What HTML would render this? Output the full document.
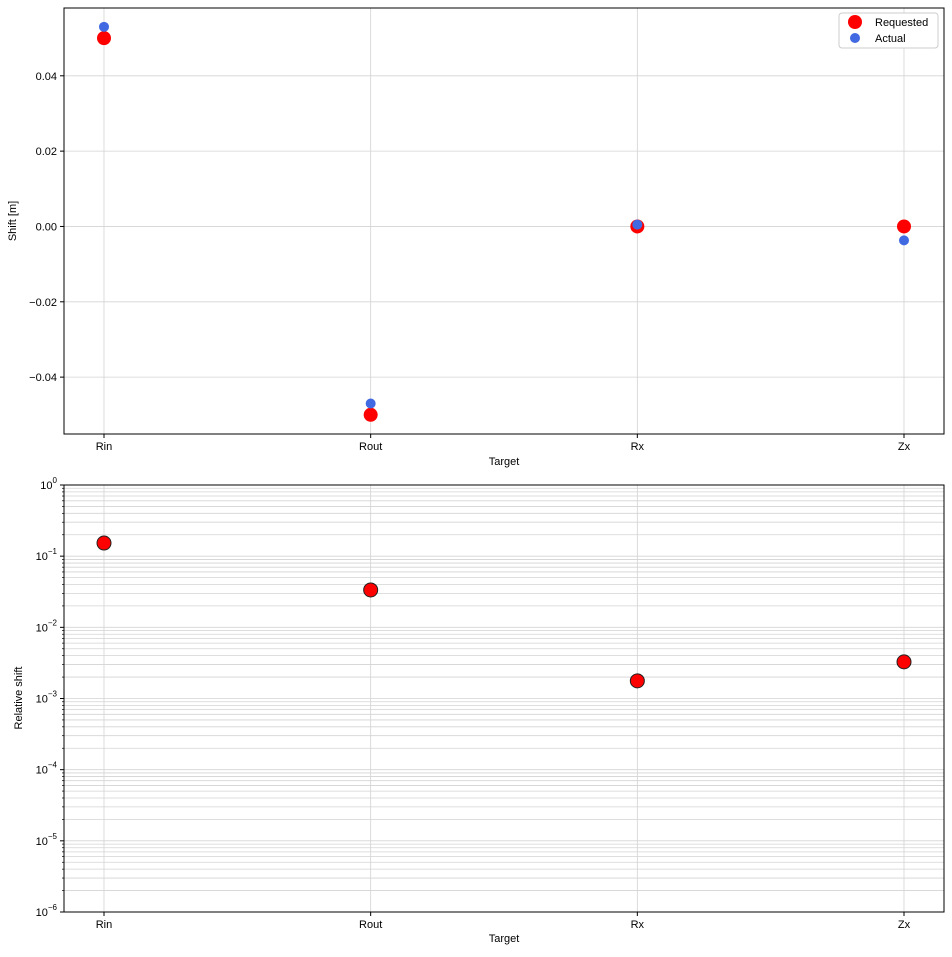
<!DOCTYPE html>
<html><head><meta charset="utf-8"><style>
body{margin:0;background:#fff;}
svg{font-family:"Liberation Sans","DejaVu Sans",sans-serif;}
</style></head><body>
<svg id="c" width="952" height="952" xmlns="http://www.w3.org/2000/svg"></svg>
<script>
const categories=["Rin","Rout","Rx","Zx"];
const requested=[0.05,-0.05,0,0];
const actual=[0.053,-0.047,0.0005,-0.0037];
const relShift=[0.153,0.0335,0.00177,0.00327];
const topTicks=[0.04,0.02,0.00,-0.02,-0.04];
const topTickLabels=["0.04","0.02","0.00","\u22120.02","\u22120.04"];
const logTicks=[0,-1,-2,-3,-4,-5,-6];

const svg=document.getElementById('c');
const NS="http://www.w3.org/2000/svg";
function el(t,a,p){const e=document.createElementNS(NS,t);for(const k in a)e.setAttribute(k,a[k]);(p||svg).appendChild(e);return e;}
const L=64,R=944;
const xS=i=>L+(i+0.15)/3.3*(R-L);
// top axes
const T1=8,B1=434,ymax=0.0580,ymin=-0.0551;
const y1=v=>T1+(ymax-v)/(ymax-ymin)*(B1-T1);
// bottom axes
const T2=485,B2=912;
const y2=v=>T2+(0-Math.log10(v))/6*(B2-T2);

const g1=el('g',{});
categories.forEach((c,i)=>{const x=xS(i);
 const l=el('line',{x1:x,x2:x,y1:T1,y2:B1,stroke:'#d3d3d3','stroke-width':0.8},g1);
 el('line',{x1:x,x2:x,y1:B1,y2:B1+4,stroke:'#000'},g1);
 const t=el('text',{x:x,y:B1+16,'font-size':11,'text-anchor':'middle'},g1);t.textContent=c;
});
topTicks.forEach((v,i)=>{const y=y1(v);
 const l=el('line',{x1:L,x2:R,y1:y,y2:y,stroke:'#d3d3d3','stroke-width':0.8},g1);
 el('line',{x1:L-4,x2:L,y1:y,y2:y,stroke:'#000'},g1);
 const t=el('text',{x:L-7,y:y+4,'font-size':11,'text-anchor':'end'},g1);t.textContent=topTickLabels[i];
});
requested.forEach((v,i)=>{const c=el('circle',{cx:xS(i),cy:y1(v),r:7,fill:'#ff0000'},g1);});
actual.forEach((v,i)=>{const c=el('circle',{cx:xS(i),cy:y1(v),r:5,fill:'#4169e1'},g1);});
el('rect',{x:L,y:T1,width:R-L,height:B1-T1,fill:'none',stroke:'#000','stroke-width':1},g1);
let t=el('text',{x:504,y:465,'font-size':11,'text-anchor':'middle'},g1);t.textContent='Target';
t=el('text',{x:16,y:221,'font-size':11,'text-anchor':'middle',transform:'rotate(-90 16 221)'},g1);t.textContent='Shift [m]';
// legend
const lg=el('g',{},g1);
el('rect',{x:839,y:13,width:99,height:35,rx:3,fill:'#fff',stroke:'#ccc'},lg);
el('circle',{cx:855,cy:22,r:7,fill:'#ff0000'},lg);
el('circle',{cx:855,cy:38,r:5,fill:'#4169e1'},lg);
t=el('text',{x:875,y:26,'font-size':11},lg);t.textContent='Requested';
t=el('text',{x:875,y:42,'font-size':11},lg);t.textContent='Actual';

// bottom
const g2=el('g',{});
categories.forEach((c,i)=>{const x=xS(i);
 el('line',{x1:x,x2:x,y1:T2,y2:B2,stroke:'#d3d3d3','stroke-width':0.8},g2);
 el('line',{x1:x,x2:x,y1:B2,y2:B2+4,stroke:'#000'},g2);
 const tt=el('text',{x:x,y:B2+16,'font-size':11,'text-anchor':'middle'},g2);tt.textContent=c;
});
for(let e=-6;e<0;e++){for(let m=2;m<=9;m++){const y=y2(m*Math.pow(10,e));
 el('line',{x1:L,x2:R,y1:y,y2:y,stroke:'#d3d3d3','stroke-width':0.8},g2);
 el('line',{x1:L-2,x2:L,y1:y,y2:y,stroke:'#000','stroke-width':0.7},g2);}}
logTicks.forEach(e=>{const y=y2(Math.pow(10,e));
 el('line',{x1:L,x2:R,y1:y,y2:y,stroke:'#d3d3d3','stroke-width':0.8},g2);
 el('line',{x1:L-4,x2:L,y1:y,y2:y,stroke:'#000'},g2);
 const tt=el('text',{x:L-7,y:y+4,'font-size':11,'text-anchor':'end'},g2);
 
 const a=el('tspan',{},tt);a.textContent='10';
 const b=el('tspan',{dy:-6,'font-size':8},tt);b.textContent=(e<0?'\u2212':'')+Math.abs(e);
});
relShift.forEach((v,i)=>{const c=el('circle',{cx:xS(i),cy:y2(v),r:7,fill:'#ff0000',stroke:'#222','stroke-width':1},g2);});
el('rect',{x:L,y:T2,width:R-L,height:B2-T2,fill:'none',stroke:'#000','stroke-width':1},g2);
t=el('text',{x:504,y:942,'font-size':11,'text-anchor':'middle'},g2);t.textContent='Target';
t=el('text',{x:22,y:698,'font-size':11,'text-anchor':'middle',transform:'rotate(-90 22 698)'},g2);t.textContent='Relative shift';
</script>
</body></html>
